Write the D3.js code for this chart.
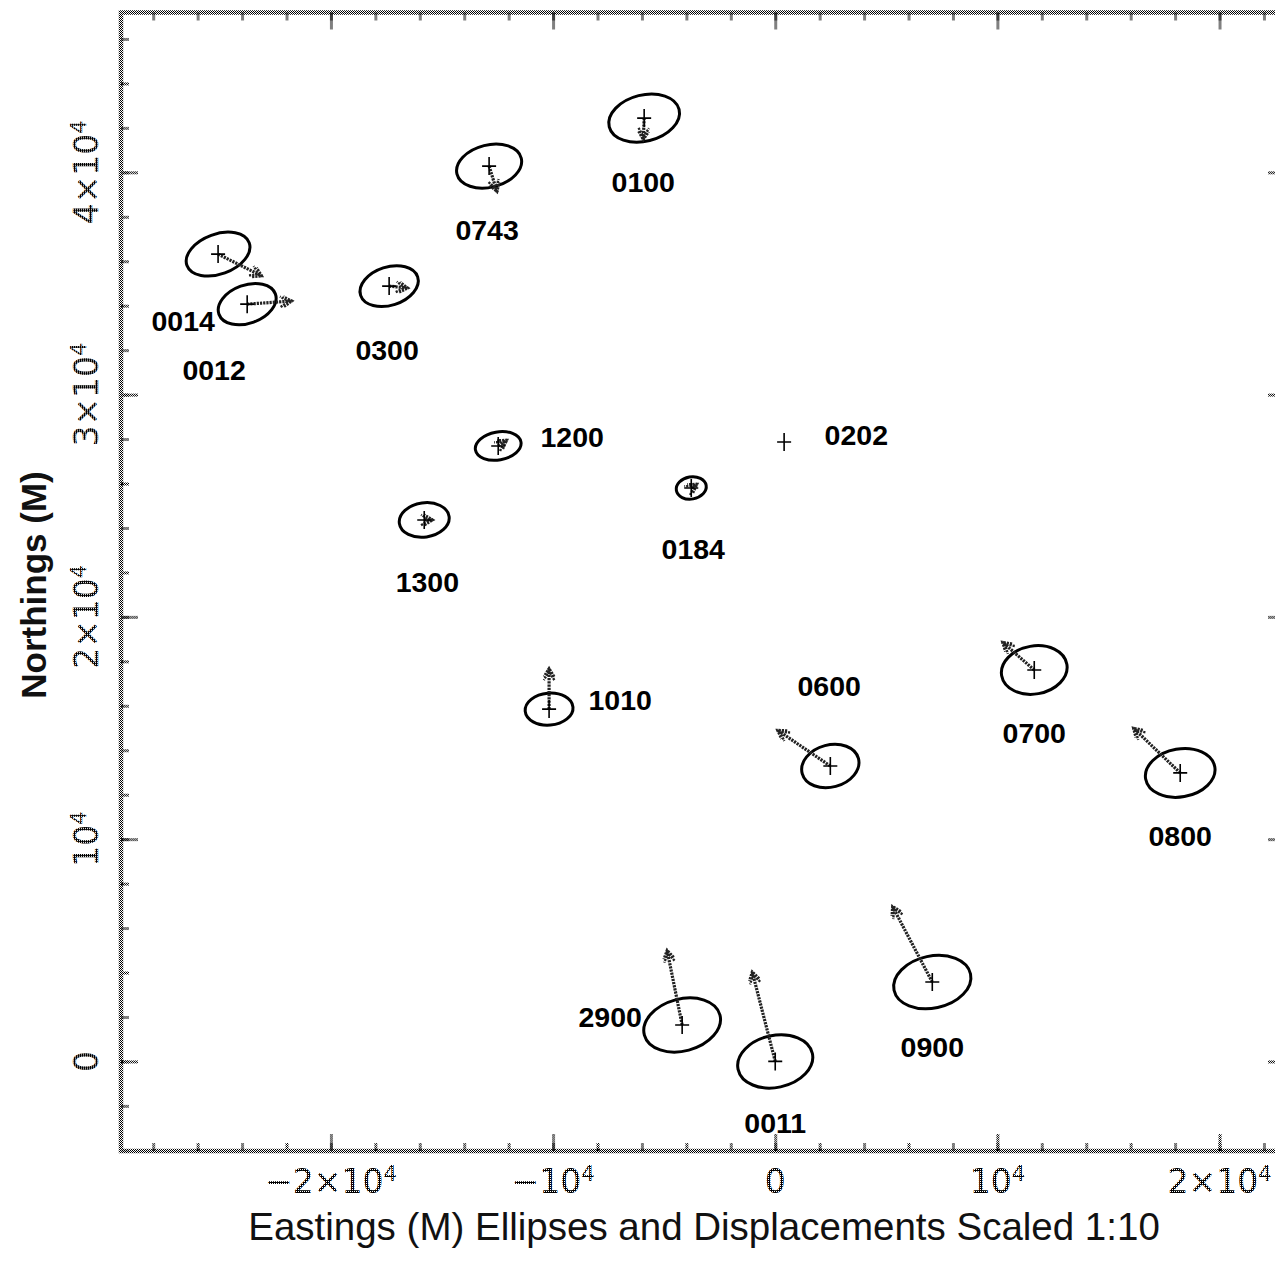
<!DOCTYPE html>
<html>
<head>
<meta charset="utf-8">
<script src="https://cdn.jsdelivr.net/npm/d3@7"></script>
<style>
  body { margin: 0; background: #fff; }
</style>
</head>
<body>
<svg id="chart" width="1275" height="1274"></svg>
<script>
// Station network: positions, error ellipses and displacement vectors (metres).
const stations  = ["0014","0012","0300","0743","0100","1200","1300","0184","0202","1010","0600","0700","0800","2900","0011","0900"];
const eastings  = [-25080,-23770,-17380,-12880,-5900,-12470,-15800,-3780,400,-10180,2480,11660,18230,-4190,0,7070];
const northings = [36320,34070,34880,40280,42440,27690,24360,25800,27870,15850,13290,17610,12980,1640,0,3570];

// Error ellipse semi-axes (scaled 1:10) and orientation, degrees anticlockwise from east.
const ellipseMajor = [1490,1350,1350,1490,1620,1040,1130,680,0,1080,1310,1490,1580,1760,1710,1760];
const ellipseMinor = [900,860,860,950,1040,630,770,500,0,720,950,1080,1080,1170,1170,1170];
const ellipseTilt  = [20,20,18,14,14,10,8,10,0,5,15,10,10,15,12,12];

// Displacement vectors (scaled 1:10).
const dispE = [1980,2030,860,360,-40,400,400,270,0,0,-2390,-1440,-2120,-680,-1040,-1800];
const dispN = [-990,140,-90,-1170,-990,270,0,180,0,1850,1620,1260,2030,3380,4050,3420];

// Station label anchors.
const labelE = [-26650,-25260,-17470,-12970,-5940,-9140,-15660,-3690,3650,-6980,2430,11660,18230,-7430,0,7070];
const labelN = [33320,31110,32010,37400,39570,28100,21570,23060,28180,16260,16890,14780,10140,2010,-2760,640];

// Axis ticks.
const majorTicksE = [-20000,-10000,0,10000,20000];
const majorTicksN = [0,10000,20000,30000,40000];
const minorTicksE = d3.range(-28000, 22001, 2000);
const minorTicksN = d3.range(-4000, 47001, 2000);

const xTitle = "Eastings (M) Ellipses and Displacements Scaled 1:10";
const yTitle = "Northings (M)";

const svg = d3.select("#chart");

// Checkerboard fills used for the grainy plotter strokes.
const defs = svg.append("defs");
function makePattern(id, cells) {
  const p = defs.append("pattern")
    .attr("id", id).attr("patternUnits", "userSpaceOnUse")
    .attr("width", 2).attr("height", 2);
  cells.forEach(([cx, cy]) => p.append("rect")
    .attr("x", cx).attr("y", cy).attr("width", 1).attr("height", 1).attr("fill", "#000"));
}
makePattern("stipple", [[0, 0], [1, 1]]);
makePattern("stippleDense", [[0, 0], [1, 1], [1, 0]]);

const frameL = 121, frameR = 1285, frameT = 12.5, frameB = 1151;
const x = d3.scaleLinear().domain([-29450, 22947]).range([frameL, frameR]);
const y = d3.scaleLinear().domain([-4030, 47190]).range([frameB, frameT]);

// Frame
svg.append("rect")
  .attr("x", frameL).attr("y", frameT)
  .attr("width", frameR - frameL).attr("height", frameB - frameT)
  .attr("fill", "none").attr("stroke", "url(#stipple)").attr("stroke-width", 4.5);

function styleAxis(g) {
  g.select(".domain").remove();
  g.selectAll(".tick line").attr("stroke", "url(#stipple)").attr("stroke-width", 3);
  g.selectAll(".tick text").remove();
}

const axes = [
  [d3.axisBottom, x, `translate(0,${frameB})`, majorTicksE, minorTicksE],
  [d3.axisTop,    x, `translate(0,${frameT})`, majorTicksE, minorTicksE],
  [d3.axisLeft,   y, `translate(${frameL},0)`, majorTicksN, minorTicksN],
  [d3.axisRight,  y, `translate(${frameR},0)`, majorTicksN, minorTicksN]
];
axes.forEach(([axisFn, sc, tr, maj, min]) => {
  svg.append("g").attr("transform", tr)
    .call(axisFn(sc).tickValues(min).tickSize(-8).tickFormat(""))
    .call(styleAxis);
  svg.append("g").attr("transform", tr)
    .call(axisFn(sc).tickValues(maj).tickSize(-17).tickFormat(""))
    .call(styleAxis);
});

// Tick labels written as powers of ten.
function powerLabel(sel, v) {
  if (v === 0) { sel.append("tspan").text("0"); return; }
  const m = v / 10000;
  const lead = m === 1 ? "10" : m === -1 ? "\u221210" : (m < 0 ? "\u2212" : "") + Math.abs(m) + "\u00d710";
  sel.append("tspan").text(lead);
  sel.append("tspan").attr("baseline-shift", "super").attr("font-size", 21).text("4");
}
const tickFont = "'DejaVu Sans', sans-serif";
majorTicksE.forEach(v => {
  const t = svg.append("text")
    .attr("x", x(v)).attr("y", 1193)
    .attr("text-anchor", "middle")
    .attr("font-family", tickFont).attr("font-size", 33)
    .attr("fill", "url(#stippleDense)");
  powerLabel(t, v);
});
majorTicksN.forEach(v => {
  const t = svg.append("text")
    .attr("transform", `translate(98,${y(v)}) rotate(-90)`)
    .attr("text-anchor", "middle")
    .attr("font-family", tickFont).attr("font-size", 33)
    .attr("fill", "url(#stippleDense)");
  powerLabel(t, v);
});

// Axis titles
svg.append("text")
  .attr("x", 704).attr("y", 1240)
  .attr("text-anchor", "middle")
  .attr("font-family", "'Liberation Sans', Arial, sans-serif")
  .attr("font-size", 38.5).attr("fill", "#111")
  .text(xTitle);
svg.append("text")
  .attr("transform", "translate(46,585) rotate(-90)")
  .attr("text-anchor", "middle")
  .attr("font-family", "'Liberation Sans', Arial, sans-serif")
  .attr("font-weight", "bold")
  .attr("font-size", 35).attr("fill", "#111")
  .text(yTitle);

// Stations
const data = stations.map((name, i) => ({
  name, e: eastings[i], n: northings[i],
  a: ellipseMajor[i], b: ellipseMinor[i], tilt: ellipseTilt[i],
  de: dispE[i], dn: dispN[i], le: labelE[i], ln: labelN[i]
}));

const plot = svg.append("g");

// Error ellipses
plot.selectAll("ellipse").data(data.filter(d => d.a > 0)).join("ellipse")
  .attr("cx", d => x(d.e)).attr("cy", d => y(d.n))
  .attr("rx", d => x(d.e + d.a) - x(d.e))
  .attr("ry", d => y(d.n) - y(d.n + d.b))
  .attr("transform", d => `rotate(${-d.tilt},${x(d.e)},${y(d.n)})`)
  .attr("fill", "none").attr("stroke", "#000").attr("stroke-width", 3);

// Displacement arrows
const moved = data.filter(d => d.de !== 0 || d.dn !== 0);
plot.selectAll("line.shaft").data(moved).join("line").attr("class", "shaft")
  .attr("x1", d => x(d.e)).attr("y1", d => y(d.n))
  .attr("x2", d => x(d.e + d.de)).attr("y2", d => y(d.n + d.dn))
  .attr("stroke", "#222").attr("stroke-width", 3.2)
  .attr("stroke-dasharray", "2.2 1");
plot.selectAll("path.head").data(moved).join("path").attr("class", "head")
  .attr("d", d => {
    const x1 = x(d.e), y1 = y(d.n), x2 = x(d.e + d.de), y2 = y(d.n + d.dn);
    const ang = Math.atan2(y2 - y1, x2 - x1), L = 10, s = 0.55;
    const p1 = [x2 - L * Math.cos(ang - s), y2 - L * Math.sin(ang - s)];
    const p2 = [x2 - L * Math.cos(ang + s), y2 - L * Math.sin(ang + s)];
    const q = [x2 - 3.5 * Math.cos(ang), y2 - 3.5 * Math.sin(ang)];
    const q1 = [q[0] - L * Math.cos(ang - s), q[1] - L * Math.sin(ang - s)];
    const q2 = [q[0] - L * Math.cos(ang + s), q[1] - L * Math.sin(ang + s)];
    return `M${p1}L${x2},${y2}L${p2}M${q1}L${q}L${q2}`;
  })
  .attr("fill", "none").attr("stroke", "#222").attr("stroke-width", 2.4)
  .attr("stroke-dasharray", "2.2 1");

// Station markers
plot.selectAll("path.mark").data(data).join("path").attr("class", "mark")
  .attr("d", d => {
    const cx = x(d.e), cy = y(d.n);
    return `M${cx - 7},${cy}H${cx + 7}M${cx},${cy - 9}V${cy + 9}`;
  })
  .attr("stroke", "#000").attr("stroke-width", 1.6).attr("fill", "none");

// Station names
plot.selectAll("text.name").data(data).join("text").attr("class", "name")
  .attr("x", d => x(d.le)).attr("y", d => y(d.ln))
  .attr("dy", "0.36em")
  .attr("text-anchor", "middle")
  .attr("font-family", "'Liberation Sans', Arial, sans-serif")
  .attr("font-weight", "bold").attr("font-size", 28.5)
  .attr("fill", "#000")
  .text(d => d.name);
</script>
</body>
</html>
